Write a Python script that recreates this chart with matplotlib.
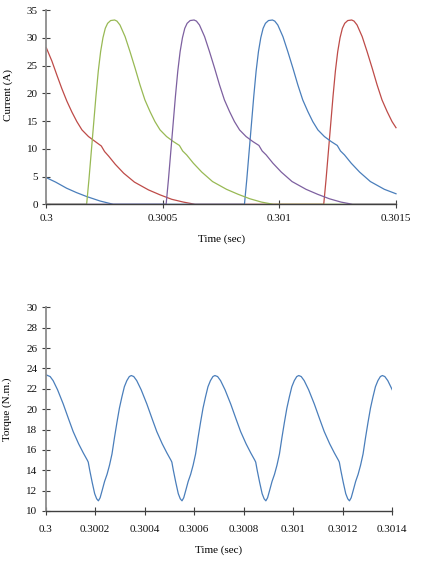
import matplotlib
matplotlib.use("Agg")
import matplotlib.pyplot as plt
import numpy as np

plt.rcParams['font.family'] = ['Liberation Serif', 'DejaVu Serif']

# times are in microseconds after t = 0.3 s
blue_t = [0, 40, 87, 130, 173, 230, 287, 850, 860, 870, 880, 890, 900, 910, 920, 930, 940, 953, 970, 980, 993,
          1015, 1036, 1058, 1079, 1100, 1122, 1143, 1165, 1193, 1222, 1248, 1262, 1279, 1308, 1344, 1390, 1450, 1500]
blue_i = [4.8, 4.0, 2.9, 2.1, 1.4, 0.6, 0, 0, 4.5, 9.5, 14.5, 19.5, 24, 27.5, 30, 31.7, 32.6, 33.1, 33.2, 33.0, 32.3,
          30.2, 27.5, 24.5, 21.5, 18.8, 16.7, 14.9, 13.4, 12.2, 11.3, 10.6, 9.6, 8.9, 7.4, 5.8, 4.1, 2.7, 1.9]

red_t = [0, 24, 46, 67, 88, 110, 131, 153, 181, 210, 236, 250, 267, 296, 332, 378, 438, 488, 538, 588, 638,
         1190, 1200, 1210, 1220, 1230, 1240, 1250, 1260, 1270, 1280, 1293, 1310, 1320, 1333, 1355, 1376, 1398, 1419,
         1440, 1462, 1483, 1500]
red_i = [28.2, 25.8, 23.2, 20.8, 18.6, 16.6, 14.9, 13.4, 12.2, 11.3, 10.5, 9.5, 8.7, 7.2, 5.6, 4.0, 2.6, 1.7, 0.9, 0.4, 0,
         0, 4.5, 9.5, 14.5, 19.5, 24, 27.5, 30, 31.7, 32.6, 33.1, 33.2, 33.0, 32.3, 30.2, 27.5, 24.5, 21.5,
         18.8, 16.7, 14.9, 13.8]

green_t = [0, 173, 183, 193, 203, 213, 223, 233, 243, 253, 263, 276, 293, 303, 316, 338, 359, 381, 402, 423, 445,
           466, 488, 516, 545, 571, 585, 602, 631, 667, 713, 773, 823, 873, 923, 973, 1500]
green_i = [0, 0, 4.5, 9.5, 14.5, 19.5, 24, 27.5, 30, 31.7, 32.6, 33.1, 33.2, 33.0, 32.3, 30.2, 27.5, 24.5, 21.5, 18.8,
           16.7, 14.9, 13.4, 12.2, 11.3, 10.6, 9.6, 8.9, 7.4, 5.8, 4.1, 2.7, 1.8, 1.0, 0.4, 0, 0]

purple_t = [0, 514, 524, 534, 544, 554, 564, 574, 584, 594, 604, 617, 634, 644, 657, 679, 700, 722, 743, 764, 786,
            807, 829, 857, 886, 912, 926, 943, 972, 1008, 1054, 1114, 1164, 1214, 1264, 1314, 1500]
purple_i = [0, 0, 4.5, 9.5, 14.5, 19.5, 24, 27.5, 30, 31.7, 32.6, 33.1, 33.2, 33.0, 32.3, 30.2, 27.5, 24.5, 21.5, 18.8,
            16.7, 14.9, 13.4, 12.2, 11.3, 10.6, 9.6, 8.9, 7.4, 5.8, 4.1, 2.7, 1.8, 1.0, 0.4, 0, 0]

torque_t = [0, 8, 18, 30, 48, 71, 93, 111, 133, 152, 168, 172, 178, 188, 198, 206, 213, 220, 228, 238, 248, 258,
            268, 278, 288, 298, 308, 318, 328, 338, 346,
            356, 368, 386, 409, 431, 449, 471, 490, 506, 510, 516, 526, 536, 544, 551, 558, 566, 576, 586, 596,
            606, 616, 626, 636, 646, 656, 666, 676, 684,
            695, 707, 725, 748, 770, 788, 810, 829, 845, 849, 855, 865, 875, 883, 890, 897, 905, 915, 925, 935,
            945, 955, 965, 975, 985, 995, 1005, 1015, 1023,
            1033, 1045, 1063, 1086, 1108, 1126, 1148, 1167, 1183, 1187, 1193, 1203, 1213, 1221, 1228, 1235, 1243,
            1253, 1263, 1273, 1283, 1293, 1303, 1313, 1323, 1333, 1343, 1353, 1361, 1371, 1383, 1401, 1405]
torque = [23.4, 23.3, 23.2, 22.8, 21.9, 20.5, 19.0, 17.8, 16.6, 15.7, 15.0, 14.8, 14.0, 12.8, 11.7, 11.2, 11.0, 11.3,
          12.0, 12.9, 13.6, 14.5, 15.6, 17.2, 18.7, 20.1, 21.2, 22.2, 22.8, 23.2, 23.3,
          23.2, 22.8, 21.9, 20.5, 19.0, 17.8, 16.6, 15.7, 15.0, 14.8, 14.0, 12.8, 11.7, 11.2, 11.0, 11.3, 12.0,
          12.9, 13.6, 14.5, 15.6, 17.2, 18.7, 20.1, 21.2, 22.2, 22.8, 23.2, 23.3,
          23.2, 22.8, 21.9, 20.5, 19.0, 17.8, 16.6, 15.7, 15.0, 14.8, 14.0, 12.8, 11.7, 11.2, 11.0, 11.3, 12.0,
          12.9, 13.6, 14.5, 15.6, 17.2, 18.7, 20.1, 21.2, 22.2, 22.8, 23.2, 23.3,
          23.2, 22.8, 21.9, 20.5, 19.0, 17.8, 16.6, 15.7, 15.0, 14.8, 14.0, 12.8, 11.7, 11.2, 11.0, 11.3, 12.0,
          12.9, 13.6, 14.5, 15.6, 17.2, 18.7, 20.1, 21.2, 22.2, 22.8, 23.2, 23.3, 23.2, 22.8, 21.9, 21.7]

top_xticks = [0.3, 0.3005, 0.301, 0.3015]
top_xlabels = ['0.3', '0.3005', '0.301', '0.3015']
top_yticks = [0, 5, 10, 15, 20, 25, 30, 35]
bot_xticks = [0.3, 0.3002, 0.3004, 0.3006, 0.3008, 0.301, 0.3012, 0.3014]
bot_xlabels = ['0.3', '0.3002', '0.3004', '0.3006', '0.3008', '0.301', '0.3012', '0.3014']
bot_yticks = [10, 12, 14, 16, 18, 20, 22, 24, 26, 28, 30]

colors = {'blue': '#4A7EBB', 'red': '#BE4B48', 'green': '#98B954', 'purple': '#7D60A0'}


def sec(us):
    return 0.3 + np.array(us) * 1e-6


def style_axes(ax, xpad):
    for s in ['top', 'right']:
        ax.spines[s].set_visible(False)
    ax.spines['left'].set_color('#8c8c8c')
    ax.spines['left'].set_linewidth(1.3)
    ax.spines['bottom'].set_color('#404040')
    ax.spines['bottom'].set_linewidth(1.0)
    ax.tick_params(axis='both', direction='inout', length=6, width=0.8,
                   labelsize=8, colors='#404040', labelcolor='#111111')
    ax.tick_params(axis='y', pad=3)
    ax.tick_params(axis='x', pad=xpad)


fig = plt.figure(figsize=(4.22, 5.66), dpi=100)

ax1 = fig.add_axes([46.3 / 422, 1 - 204.3 / 566, 349.7 / 422, 194.3 / 566])
ax1.plot(sec(red_t), red_i, color=colors['red'], lw=0.9, clip_on=False)
ax1.plot(sec(blue_t), blue_i, color=colors['blue'], lw=0.9, clip_on=False)
ax1.plot(sec(green_t), green_i, color=colors['green'], lw=0.9, clip_on=False)
ax1.plot(sec(purple_t), purple_i, color=colors['purple'], lw=0.9, clip_on=False)
ax1.set_xlim(0.3, 0.3015)
ax1.set_ylim(0, 35)
ax1.set_xticks(top_xticks)
ax1.set_xticklabels(top_xlabels)
ax1.set_yticks(top_yticks)
style_axes(ax1, 4)
ax1.set_xlabel('Time (sec)', fontsize=8)
ax1.set_ylabel('Current (A)', fontsize=8)
ax1.xaxis.set_label_coords(0.5, -0.18)
ax1.yaxis.set_label_coords(-0.11, 0.56)
ax1.yaxis.label.set_va('center')
ax1.xaxis.label.set_va('center')

ax2 = fig.add_axes([45.7 / 422, 1 - 511 / 566, 346.3 / 422, 203.7 / 566])
ax2.plot(sec(torque_t), torque, color=colors['blue'], lw=0.9)
ax2.set_xlim(0.3, 0.3014)
ax2.set_ylim(10, 30)
ax2.set_xticks(bot_xticks)
ax2.set_xticklabels(bot_xlabels)
ax2.set_yticks(bot_yticks)
style_axes(ax2, 7)
ax2.set_xlabel('Time (sec)', fontsize=8)
ax2.set_ylabel('Torque (N.m.)', fontsize=8)
ax2.xaxis.set_label_coords(0.5, -0.19)
ax2.yaxis.set_label_coords(-0.112, 0.5)
ax2.yaxis.label.set_va('center')
ax2.xaxis.label.set_va('center')

fig.savefig('out.png', dpi=100, facecolor='white')
